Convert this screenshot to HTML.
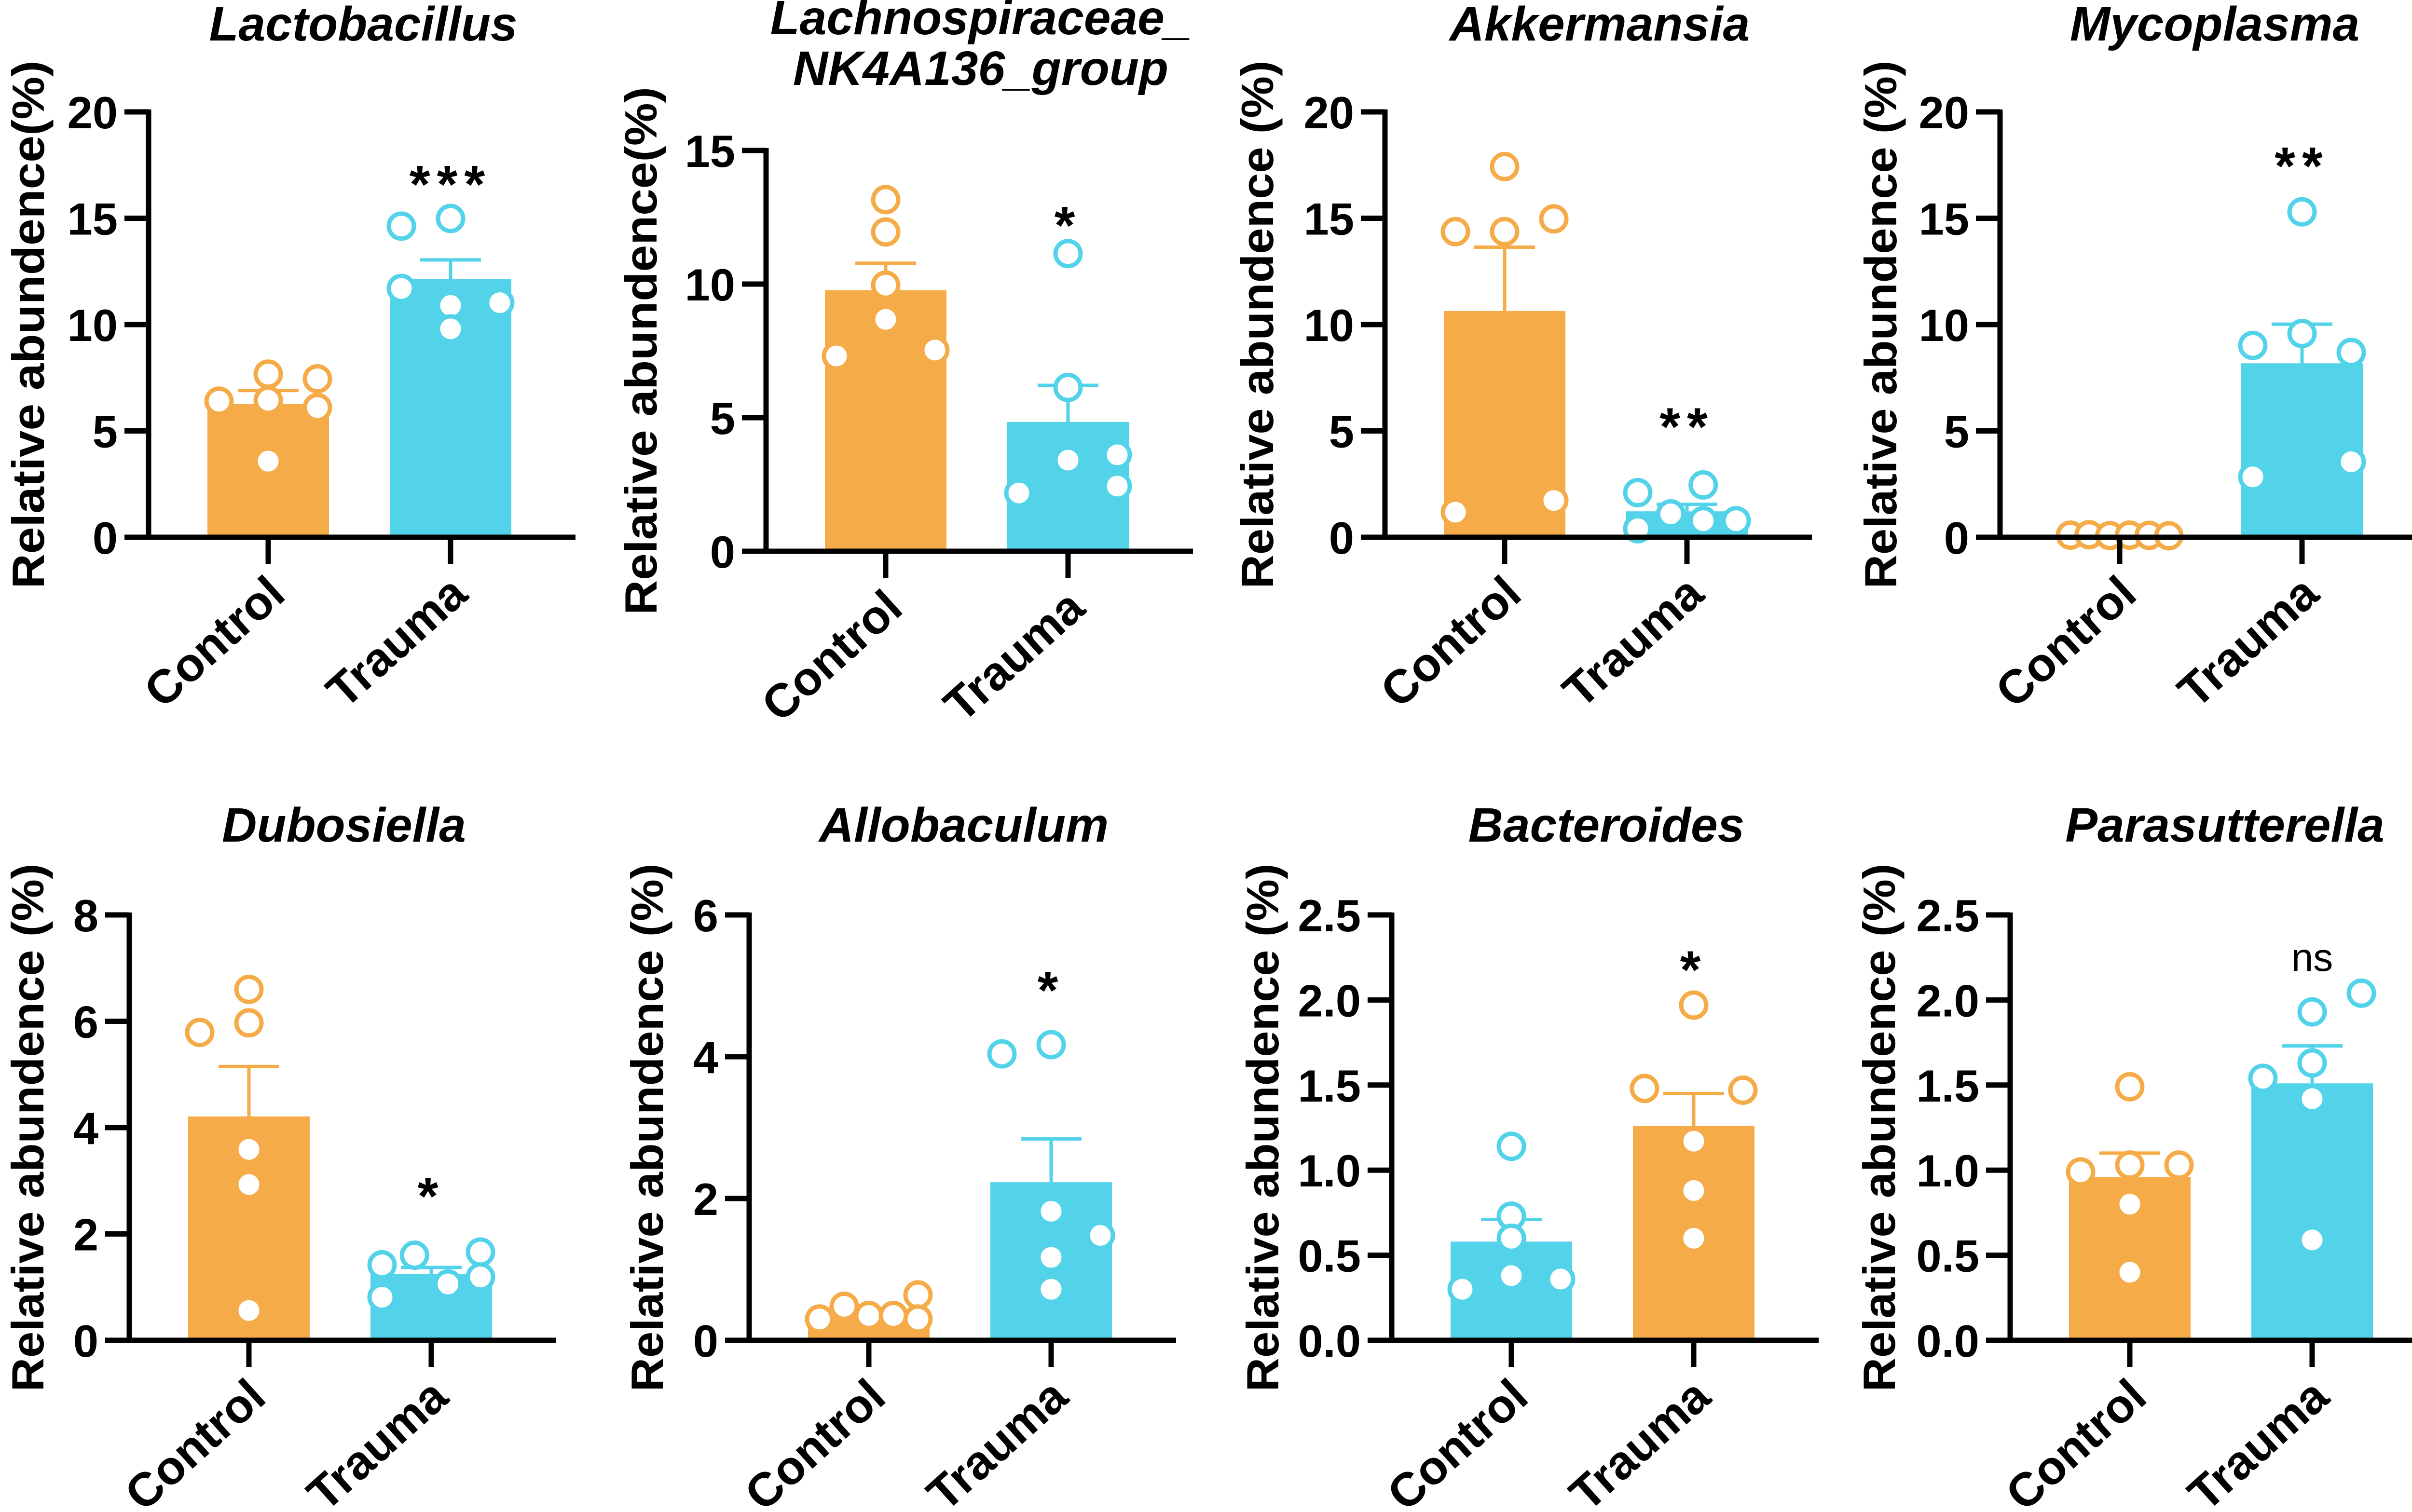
<!DOCTYPE html>
<html><head><meta charset="utf-8"><style>
html,body{margin:0;padding:0;background:#fff;}
svg{display:block;}
text{font-family:"Liberation Sans",Arial,sans-serif;fill:#000;}
</style></head><body>
<svg id="fig" width="5050" height="3135" viewBox="0 0 5050 3135" xmlns="http://www.w3.org/2000/svg"></svg>
<script>
const categories = ["Control","Trauma"];
const titles = [["Lactobacillus"],["Lachnospiraceae_","NK4A136_group"],["Akkermansia"],["Mycoplasma"],["Dubosiella"],["Allobaculum"],["Bacteroides"],["Parasutterella"]];
const yMax = [20,15,20,20,8,6,2.5,2.5];
const yTicks = [[0,5,10,15,20],[0,5,10,15],[0,5,10,15,20],[0,5,10,15,20],[0,2,4,6,8],[0,2,4,6],[0,0.5,1,1.5,2,2.5],[0,0.5,1,1.5,2,2.5]];
const tickLabels = [["0","5","10","15","20"],["0","5","10","15"],["0","5","10","15","20"],["0","5","10","15","20"],["0","2","4","6","8"],["0","2","4","6"],["0.0","0.5","1.0","1.5","2.0","2.5"],["0.0","0.5","1.0","1.5","2.0","2.5"]];
const controlMeans = [6.26,9.77,10.64,0.1,4.21,0.35,0.58,0.96];
const traumaMeans = [12.15,4.84,1.22,8.18,1.25,2.23,1.26,1.51];
const controlSems = [0.64,1.01,3.0,0.02,0.94,0.05,0.13,0.14];
const traumaSems = [0.89,1.37,0.33,1.84,0.12,0.61,0.19,0.22];
const controlPoints = [
 [6.4,7.67,7.45,6.44,6.1,3.58],
 [13.16,11.95,9.96,8.68,7.31,7.53],
 [17.43,14.37,14.37,14.97,1.18,1.73],
 [0.1,0.12,0.08,0.1,0.09,0.07],
 [6.6,5.97,5.79,3.59,2.93,0.56],
 [0.3,0.48,0.35,0.35,0.64,0.3],
 [1.14,0.73,0.6,0.38,0.3,0.36],
 [1.49,0.99,1.03,1.03,0.8,0.4]];
const traumaPoints = [
 [14.63,14.99,11.7,10.9,9.8,11.03],
 [11.14,6.13,3.41,3.61,2.18,2.44],
 [2.1,2.46,0.4,1.1,0.78,0.78],
 [15.3,9.02,9.58,8.69,2.84,3.55],
 [1.42,0.81,1.6,1.06,1.66,1.19],
 [4.04,4.17,1.82,1.48,1.17,0.72],
 [1.97,1.48,1.47,1.17,0.88,0.6],
 [2.04,1.93,1.63,1.54,1.42,0.59]];
const controlJitter = [[-1,0,1,0,1,0],[0,0,0,0,-1,1],[0,-1,0,1,-1,1],[-1,-0.62,-0.2,0.2,0.6,1],[0,0,-1,0,0,0],[-1,-0.5,0,0.5,1,1],[0,0,0,0,-1,1],[0,-1,0,1,0,0]];
const traumaJitter = [[-1,0,-1,0,0,1],[0,0,0,1,-1,1],[-1,0.33,-1,-0.33,0.33,1],[0,-1,0,1,-1,1],[-1,-1,-0.34,0.34,1,1],[-1,0,0,1,0,0],[0,-1,1,0,0,0],[1,0,0,-1,0,0]];
const sigLabels = ["***","*","**","**","*","*","*","ns"];
const sigValues = [17.1,12.6,5.7,17.96,2.91,5.09,2.24,2.25];
const swapColors = [false,false,false,false,false,false,true,false];

const ORANGE="#F5AC48", CYAN="#52D3EA";
const layout = [
 {A:308,top:232,zero:1114,yt:58,tb:[84]},
 {A:1588,top:312,zero:1143,yt:1328,tb:[71,176]},
 {A:2871,top:232,zero:1114,yt:2606,tb:[84]},
 {A:4146,top:232,zero:1114,yt:3898,tb:[84]},
 {A:268,top:1897,zero:2779,yt:57,tb:[1745]},
 {A:1553,top:1897,zero:2779,yt:1341,tb:[1745]},
 {A:2885,top:1897,zero:2779,yt:2617,tb:[1745]},
 {A:4167,top:1897,zero:2779,yt:3895,tb:[1745]}];
const NS="http://www.w3.org/2000/svg";
const svg=document.getElementById("fig");
function mk(tag,attrs,parent){const e=document.createElementNS(NS,tag);for(const k in attrs)e.setAttribute(k,attrs[k]);(parent||svg).appendChild(e);return e;}

for(let p=0;p<8;p++){
  const L=layout[p];
  const g=mk("g",{});
  
  
  const ys=v=>L.zero-(v/yMax[p])*(L.zero-L.top);
  const cx=[L.A+248,L.A+626];
  const t=mk("text",{x:L.A+445,"text-anchor":"middle","font-size":100,"font-weight":"bold","font-style":"italic"},g);
  
  
  titles[p].forEach((s,i)=>{const ts=mk("tspan",{x:L.A+445,y:L.tb[i]},t);ts.textContent=s;});
  const yt=mk("text",{x:0,y:0,transform:`translate(${L.yt+33},${(L.top+L.zero)/2}) rotate(-90)`,"text-anchor":"middle","font-size":94,"font-weight":"bold",textLength:1095,lengthAdjust:"spacingAndGlyphs"},g);
  yt.textContent=(p<2)?"Relative abundence(%)":"Relative abundence (%)";
  
  
  const means=[controlMeans[p],traumaMeans[p]], sems=[controlSems[p],traumaSems[p]];
  const pts=[controlPoints[p],traumaPoints[p]], jit=[controlJitter[p],traumaJitter[p]];
  const cols=swapColors[p]?[CYAN,ORANGE]:[ORANGE,CYAN];
  for(let c=0;c<2;c++){
    const b=mk("rect",{x:cx[c]-126,y:ys(means[c]),width:252,height:L.zero-ys(means[c]),fill:cols[c]},g);
    
    
    const top=ys(means[c]+sems[c]);
    const e1=mk("line",{x1:cx[c],x2:cx[c],y1:ys(means[c]),y2:top,stroke:cols[c],"stroke-width":7},g);
    
    
    const e2=mk("line",{x1:cx[c]-63,x2:cx[c]+63,y1:top,y2:top,stroke:cols[c],"stroke-width":7},g);
    
    
    pts[c].forEach((v,i)=>{
      const ci=mk("circle",{cx:cx[c]+jit[c][i]*102,cy:ys(v),r:26,fill:"#fff",stroke:cols[c],"stroke-width":9},g);
      
      
    });
  }
  const ya=mk("line",{x1:L.A,x2:L.A,y1:L.top-5,y2:L.zero,stroke:"#000","stroke-width":11},g);
  
  
  const xa=mk("line",{x1:L.A-50,x2:L.A+885,y1:L.zero,y2:L.zero,stroke:"#000","stroke-width":11},g);
  
  
  yTicks[p].forEach((v,i)=>{
    const y=ys(v);
    const tk=mk("line",{x1:L.A-50,x2:L.A,y1:y,y2:y,stroke:"#000","stroke-width":11},g);
    
    
    const tl=mk("text",{x:L.A-64,y:y+34,"text-anchor":"end","font-size":94,"font-weight":"bold"},g);
    tl.textContent=tickLabels[p][i];
    
    
  });
  for(let c=0;c<2;c++){
    const tk=mk("line",{x1:cx[c],x2:cx[c],y1:L.zero,y2:L.zero+55,stroke:"#000","stroke-width":11},g);
    
    
    const cl=mk("text",{x:0,y:0,transform:`translate(${cx[c]+40},${L.zero+125}) rotate(-42)`,"text-anchor":"end","font-size":98,"font-weight":"bold"},g);
    cl.textContent=categories[c];
    
    
  }
  const isNs=sigLabels[p]==="ns";
  const s=mk("text",{x:cx[1],y:ys(sigValues[p])+(isNs?28:60),"text-anchor":"middle","font-size":isNs?82:110,"font-weight":isNs?"normal":"bold","letter-spacing":isNs?0:14},g);
  s.textContent=sigLabels[p];
  
  
}
</script>
</body></html>
